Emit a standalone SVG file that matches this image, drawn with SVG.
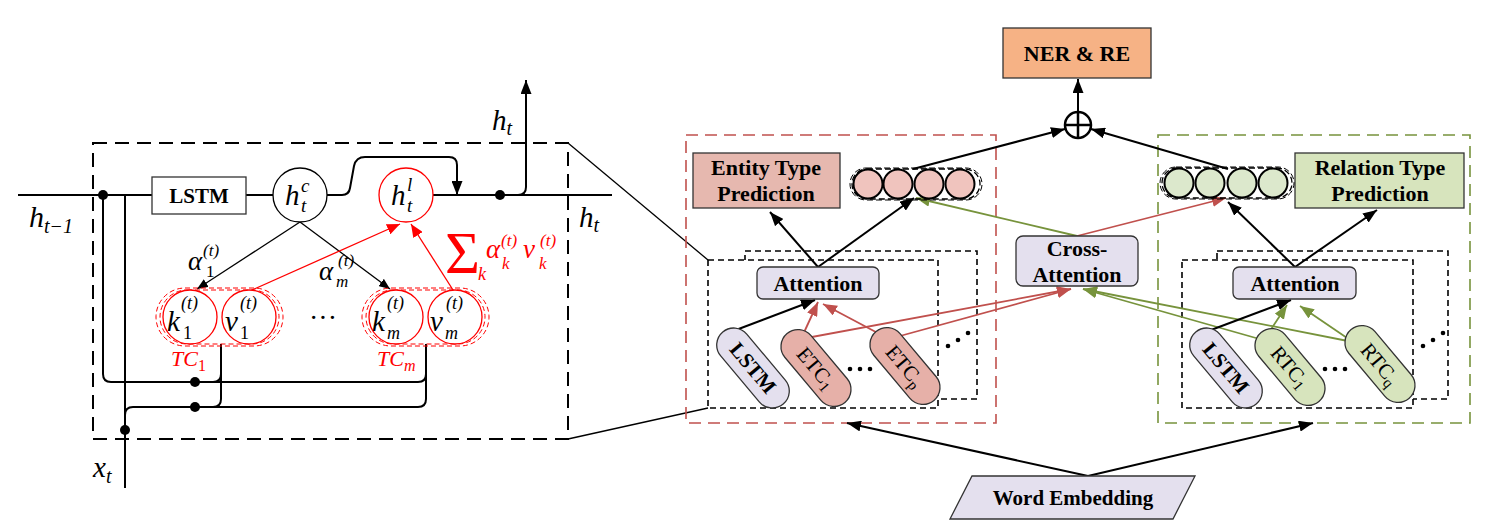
<svg xmlns="http://www.w3.org/2000/svg" width="1500" height="531" viewBox="0 0 1500 531">
<style>
.m{font-family:"Liberation Serif","DejaVu Serif",serif;font-style:italic;fill:#000}
.mr{font-family:"Liberation Serif","DejaVu Serif",serif;font-style:italic;fill:#FF0000}
.up{font-style:normal}
.b{font-family:"Liberation Serif","Times New Roman",serif;font-weight:bold;fill:#000;text-anchor:middle}
.nb{font-weight:normal}
.ln{fill:none;stroke:#000;stroke-width:2}
.thin{fill:none;stroke:#000;stroke-width:1.3}
.red{fill:none;stroke:#FF0000;stroke-width:1.3}
.dk{fill:none;stroke:#000;stroke-width:2;stroke-dasharray:14 8}
.dsm{fill:#fff;stroke:#000;stroke-width:1.6;stroke-dasharray:6 4}
.dred{fill:none;stroke:#C0504D;stroke-width:1.6;stroke-dasharray:12 7}
.dgrn{fill:none;stroke:#77933C;stroke-width:1.6;stroke-dasharray:12 7}
.tc{fill:none;stroke:#FF0000;stroke-width:1;stroke-dasharray:5 3}
.ar{fill:none;stroke:#000;stroke-width:2}
.arR{fill:none;stroke:#C0504D;stroke-width:1.8}
.arG{fill:none;stroke:#77933C;stroke-width:1.8}
.lav{fill:#E4E0EE;stroke:#333;stroke-width:1.3}
.pnk{fill:#E6B0A8;stroke:#333;stroke-width:1.3}
.grn{fill:#D7E4BD;stroke:#333;stroke-width:1.3}
.dot{fill:#000}
</style>
<defs>
<marker id="ab" viewBox="0 0 14 11" refX="14" refY="5.5" markerWidth="14" markerHeight="11" markerUnits="userSpaceOnUse" orient="auto"><path d="M0,0 L14,5.5 L0,11 z" fill="#000"/></marker>
<marker id="abs" viewBox="0 0 11 9" refX="11" refY="4.5" markerWidth="11" markerHeight="9" markerUnits="userSpaceOnUse" orient="auto"><path d="M0,0 L11,4.5 L0,9 z" fill="#000"/></marker>
<marker id="arl" viewBox="0 0 13 11" refX="13" refY="5.5" markerWidth="13" markerHeight="11" markerUnits="userSpaceOnUse" orient="auto"><path d="M0,0 L13,5.5 L0,11 z" fill="#FF0000"/></marker>
<marker id="arr" viewBox="0 0 14 11" refX="14" refY="5.5" markerWidth="14" markerHeight="11" markerUnits="userSpaceOnUse" orient="auto"><path d="M0,0 L14,5.5 L0,11 z" fill="#C0504D"/></marker>
<marker id="arg" viewBox="0 0 14 11" refX="14" refY="5.5" markerWidth="14" markerHeight="11" markerUnits="userSpaceOnUse" orient="auto"><path d="M0,0 L14,5.5 L0,11 z" fill="#77933C"/></marker>
</defs>

<!-- LEFT PANEL -->
<g id="left-frame">
<rect x="93" y="143" width="475" height="296" class="dk"/>
<line x1="568" y1="143" x2="708" y2="260" class="thin" stroke-width="1.6"/>
<line x1="568" y1="439" x2="708" y2="408" class="thin" stroke-width="1.6"/>
</g>

<g id="left-connectors">
<path d="M18,195 H152" class="ln"/>
<path d="M246,195 H273" class="ln"/>
<path d="M433,195 H612" class="ln"/>
<path d="M327,195 H342 Q349,195 350,188 L354,166 Q356,157 365,157 H449 Q457,157 457,165 V195" class="ln" marker-end="url(#ab)"/>
<path d="M500,195 H518 Q526,195 526,187 V80" class="ln" marker-end="url(#ab)"/>
<path d="M103,195 V374 Q103,382 111,382 H418 Q426,382 426,374" class="ln"/>
<path d="M125,195 V488" class="ln"/>
<path d="M125,430 V415 Q125,407 133,407 H418 Q426,407 426,399 V344" class="ln"/>
<path d="M221,344 V399 Q221,407 213,407" class="ln"/>
<path d="M221,374 Q221,382 213,382" class="ln"/>
<line x1="300" y1="222" x2="197" y2="289" class="thin" marker-end="url(#abs)"/>
<line x1="300" y1="222" x2="390" y2="289" class="thin" marker-end="url(#abs)"/>
<line x1="252" y1="290" x2="400" y2="224" class="red" marker-end="url(#arl)"/>
<line x1="453" y1="290" x2="411" y2="224" class="red" marker-end="url(#arl)"/>
<circle cx="103" cy="195" r="5" class="dot"/>
<circle cx="500" cy="195" r="5" class="dot"/>
<circle cx="195" cy="382" r="5" class="dot"/>
<circle cx="195" cy="407" r="5" class="dot"/>
<circle cx="125" cy="430" r="5" class="dot"/>
</g>

<g id="lstm-cell">
<rect x="152" y="177" width="94" height="37" fill="#fff" stroke="#333" stroke-width="1.3"/>
<text x="199" y="203" class="b" font-size="21">LSTM</text>
</g>
<g id="h-c">
<circle cx="300" cy="195" r="27" fill="#fff" stroke="#000" stroke-width="1.3"/>
<text x="285" y="205" class="m" font-size="29">h</text>
<text x="301" y="192" class="m" font-size="19">c</text>
<text x="301" y="212" class="m" font-size="19">t</text>
</g>
<g id="h-l">
<circle cx="406" cy="195" r="27" fill="#fff" stroke="#FF0000" stroke-width="1.3"/>
<text x="391" y="205" class="m" font-size="29">h</text>
<text x="407" y="191" class="m" font-size="19">l</text>
<text x="407" y="212" class="m" font-size="19">t</text>
</g>

<g id="tc1">
<rect x="160" y="290" width="119" height="54" rx="27" class="tc"/>
<rect x="156" y="288" width="127" height="58" rx="29" class="tc"/>
<circle cx="190" cy="317" r="27" fill="#fff" stroke="#FF0000" stroke-width="1.3"/>
<circle cx="249" cy="317" r="27" fill="#fff" stroke="#FF0000" stroke-width="1.3"/>
<text x="167" y="331" class="m" font-size="29">k</text>
<text x="183" y="339" class="m up" font-size="18">1</text>
<text x="181" y="309" class="m" font-size="18">(t)</text>
<text x="225" y="331" class="m" font-size="29">v</text>
<text x="240" y="339" class="m up" font-size="18">1</text>
<text x="240" y="309" class="m" font-size="18">(t)</text>
<text x="171" y="366" class="mr" font-size="22">TC<tspan class="up" font-size="16" dy="5">1</tspan></text>
</g>
<g id="tcm">
<rect x="366" y="290" width="119" height="54" rx="27" class="tc"/>
<rect x="362" y="288" width="127" height="58" rx="29" class="tc"/>
<circle cx="396" cy="317" r="27" fill="#fff" stroke="#FF0000" stroke-width="1.3"/>
<circle cx="455" cy="317" r="27" fill="#fff" stroke="#FF0000" stroke-width="1.3"/>
<text x="372" y="331" class="m" font-size="29">k</text>
<text x="387" y="339" class="m" font-size="18">m</text>
<text x="387" y="309" class="m" font-size="18">(t)</text>
<text x="430" y="331" class="m" font-size="29">v</text>
<text x="445" y="339" class="m" font-size="18">m</text>
<text x="446" y="309" class="m" font-size="18">(t)</text>
<text x="377" y="366" class="mr" font-size="22">TC<tspan font-size="16" dy="5">m</tspan></text>
</g>
<g id="left-labels">
<text x="309" y="327" font-family="Liberation Serif,serif" font-size="28" fill="#000">···</text>
<text x="29" y="227" class="m" font-size="30">h<tspan font-size="20" dy="6">t−1</tspan></text>
<text x="492" y="130" class="m" font-size="29">h<tspan font-size="20" dy="5">t</tspan></text>
<text x="579" y="227" class="m" font-size="29">h<tspan font-size="20" dy="5">t</tspan></text>
<text x="93" y="477" class="m" font-size="29">x<tspan font-size="20" dy="6">t</tspan></text>
<text x="188" y="270" class="m" font-size="27">α</text>
<text x="206" y="277" class="m up" font-size="17">1</text>
<text x="203" y="256" class="m" font-size="17">(t)</text>
<text x="319" y="280" class="m" font-size="27">α</text>
<text x="336" y="287" class="m" font-size="17">m</text>
<text x="338" y="266" class="m" font-size="17">(t)</text>
<text x="445" y="273" class="mr up" font-size="60">Σ</text>
<text x="478" y="280" class="mr" font-size="18">k</text>
<text x="486" y="258" class="mr" font-size="27">α</text>
<text x="502" y="269" class="mr" font-size="17">k</text>
<text x="501" y="246" class="mr" font-size="17">(t)</text>
<text x="523" y="258" class="mr" font-size="27">v</text>
<text x="539" y="269" class="mr" font-size="17">k</text>
<text x="540" y="246" class="mr" font-size="17">(t)</text>
</g>

<!-- RIGHT PANEL -->
<g id="entity-branch">
<rect x="686" y="135" width="310" height="288" class="dred"/>
</g>
<g id="relation-branch">
<rect x="1158" y="135" width="312" height="288" class="dgrn"/>
</g>

<g id="entity-encoder">
<rect x="745" y="251" width="232" height="148" class="dsm"/>
<circle cx="948" cy="346" r="2.3" class="dot"/>
<circle cx="958" cy="340" r="2.3" class="dot"/>
<circle cx="968" cy="333" r="2.3" class="dot"/>
<rect x="708" y="260" width="230" height="148" class="dsm"/>
</g>
<g id="relation-encoder">
<rect x="1217" y="251" width="231" height="148" class="dsm"/>
<circle cx="1423" cy="346" r="2.3" class="dot"/>
<circle cx="1433" cy="340" r="2.3" class="dot"/>
<circle cx="1443" cy="333" r="2.3" class="dot"/>
<rect x="1182" y="260" width="231" height="148" class="dsm"/>
</g>

<g id="connectors">
<line x1="1078" y1="112" x2="1078" y2="79" class="ar" marker-end="url(#ab)"/>
<line x1="913" y1="169" x2="1065" y2="129" class="ar" marker-end="url(#ab)"/>
<line x1="1228" y1="169" x2="1091" y2="129" class="ar" marker-end="url(#ab)"/>
<line x1="818" y1="267" x2="770" y2="212" class="ar" marker-end="url(#ab)"/>
<line x1="818" y1="267" x2="914" y2="198" class="ar" marker-end="url(#ab)"/>
<line x1="1295" y1="267" x2="1228" y2="202" class="ar" marker-end="url(#ab)"/>
<line x1="1295" y1="267" x2="1377" y2="210" class="ar" marker-end="url(#ab)"/>
<line x1="728" y1="333" x2="815" y2="300" class="ar" marker-end="url(#ab)"/>
<line x1="801" y1="339" x2="818" y2="302" class="arR" marker-end="url(#arr)"/>
<line x1="889" y1="339" x2="823" y2="304" class="arR" marker-end="url(#arr)"/>
<line x1="801" y1="339" x2="1071" y2="289" class="arR" marker-end="url(#arr)"/>
<line x1="889" y1="339" x2="1071" y2="289" class="arR" marker-end="url(#arr)"/>
<line x1="1263" y1="340" x2="1083" y2="289" class="arG" marker-end="url(#arg)"/>
<line x1="1353" y1="342" x2="1083" y2="289" class="arG" marker-end="url(#arg)"/>
<line x1="1203" y1="333" x2="1291" y2="300" class="ar" marker-end="url(#ab)"/>
<line x1="1264" y1="340" x2="1287" y2="305" class="arG" marker-end="url(#arg)"/>
<line x1="1353" y1="342" x2="1300" y2="306" class="arG" marker-end="url(#arg)"/>
<line x1="1077" y1="236" x2="1226" y2="198" class="arR" marker-end="url(#arr)"/>
<line x1="1077" y1="236" x2="916" y2="198" class="arG" stroke-width="1.4" marker-end="url(#arg)"/>
<line x1="1088" y1="476" x2="847" y2="423" class="ar" marker-end="url(#ab)"/>
<line x1="1088" y1="476" x2="1313" y2="423" class="ar" marker-end="url(#ab)"/>
</g>

<g id="ner-re">
<rect x="1003" y="28" width="148" height="50" fill="#F6B285" stroke="#333" stroke-width="1.3"/>
<text x="1077" y="61" class="b" font-size="22">NER &amp; RE</text>
</g>
<g id="oplus">
<circle cx="1078" cy="125" r="13" fill="#fff" stroke="#000" stroke-width="2.5"/>
<line x1="1065" y1="125" x2="1091" y2="125" stroke="#000" stroke-width="2.5"/>
<line x1="1078" y1="112" x2="1078" y2="138" stroke="#000" stroke-width="2.5"/>
</g>

<g id="entity-type-prediction">
<rect x="693" y="153" width="147" height="55" fill="#E6B8AF" stroke="#333" stroke-width="1.3"/>
<text x="766" y="175" class="b" font-size="22">Entity Type</text>
<text x="766" y="201" class="b" font-size="22">Prediction</text>
</g>
<g id="relation-type-prediction">
<rect x="1295" y="153" width="169" height="55" fill="#D7E4BD" stroke="#333" stroke-width="1.3"/>
<text x="1380" y="175" class="b" font-size="22">Relation Type</text>
<text x="1380" y="201" class="b" font-size="22">Prediction</text>
</g>

<g id="entity-vector">
<rect x="852" y="169" width="128" height="30" rx="15" fill="none" stroke="#000" stroke-width="1.3" stroke-dasharray="6 3"/>
<rect x="850" y="168" width="132" height="32" rx="16" fill="none" stroke="#000" stroke-width="1" stroke-dasharray="6 3"/>
<circle cx="868" cy="184" r="14.5" fill="#F0C4BE" stroke="#000" stroke-width="2"/>
<circle cx="898" cy="184" r="14.5" fill="#F0C4BE" stroke="#000" stroke-width="2"/>
<circle cx="929" cy="184" r="14.5" fill="#F0C4BE" stroke="#000" stroke-width="2"/>
<circle cx="960" cy="184" r="14.5" fill="#F0C4BE" stroke="#000" stroke-width="2"/>
</g>
<g id="relation-vector">
<rect x="1162" y="168" width="130" height="30" rx="15" fill="none" stroke="#000" stroke-width="1.3" stroke-dasharray="6 3"/>
<rect x="1160" y="167" width="134" height="32" rx="16" fill="none" stroke="#000" stroke-width="1" stroke-dasharray="6 3"/>
<circle cx="1179" cy="183" r="14.5" fill="#DCE8CC" stroke="#000" stroke-width="2"/>
<circle cx="1210" cy="183" r="14.5" fill="#DCE8CC" stroke="#000" stroke-width="2"/>
<circle cx="1242" cy="183" r="14.5" fill="#DCE8CC" stroke="#000" stroke-width="2"/>
<circle cx="1273" cy="183" r="14.5" fill="#DCE8CC" stroke="#000" stroke-width="2"/>
</g>

<g id="cross-attention">
<rect x="1016" y="236" width="122" height="50" rx="7" class="lav"/>
<text x="1077" y="256" class="b" font-size="22">Cross-</text>
<text x="1077" y="282" class="b" font-size="22">Attention</text>
</g>
<g id="entity-attention">
<rect x="757" y="267" width="122" height="32" rx="6" class="lav"/>
<text x="818" y="291" class="b" font-size="22">Attention</text>
</g>
<g id="relation-attention">
<rect x="1233" y="267" width="123" height="32" rx="6" class="lav"/>
<text x="1295" y="291" class="b" font-size="22">Attention</text>
</g>

<g id="entity-lstm" transform="translate(753,368) rotate(50)">
<rect x="-47" y="-17" width="94" height="34" rx="17" class="lav"/>
<text x="0" y="7" class="b" font-size="21">LSTM</text>
</g>
<g id="etc-1" transform="translate(816,368) rotate(50)">
<rect x="-45" y="-17" width="90" height="34" rx="17" class="pnk"/>
<text x="0" y="7" class="b nb" font-size="21">ETC<tspan font-size="15" dy="4">1</tspan></text>
</g>
<g id="etc-p" transform="translate(905,366) rotate(50)">
<rect x="-45" y="-17" width="90" height="34" rx="17" class="pnk"/>
<text x="0" y="7" class="b nb" font-size="21">ETC<tspan font-size="15" dy="4">p</tspan></text>
</g>
<g id="entity-dots">
<circle cx="850" cy="369" r="2.3" class="dot"/>
<circle cx="860" cy="369" r="2.3" class="dot"/>
<circle cx="870" cy="369" r="2.3" class="dot"/>
</g>

<g id="relation-lstm" transform="translate(1226,368) rotate(50)">
<rect x="-47" y="-17" width="94" height="34" rx="17" class="lav"/>
<text x="0" y="7" class="b" font-size="21">LSTM</text>
</g>
<g id="rtc-1" transform="translate(1290,367) rotate(50)">
<rect x="-45" y="-17" width="90" height="34" rx="17" class="grn"/>
<text x="0" y="7" class="b nb" font-size="21">RTC<tspan font-size="15" dy="4">1</tspan></text>
</g>
<g id="rtc-q" transform="translate(1380,364) rotate(50)">
<rect x="-45" y="-17" width="90" height="34" rx="17" class="grn"/>
<text x="0" y="7" class="b nb" font-size="21">RTC<tspan font-size="15" dy="4">q</tspan></text>
</g>
<g id="relation-dots">
<circle cx="1325" cy="369" r="2.3" class="dot"/>
<circle cx="1335" cy="369" r="2.3" class="dot"/>
<circle cx="1345" cy="369" r="2.3" class="dot"/>
</g>

<g id="word-embedding">
<polygon points="972,476 1195,476 1173,519 950,519" fill="#E4E0EE" stroke="#333" stroke-width="1.3"/>
<text x="1073" y="505" class="b" font-size="21">Word Embedding</text>
</g>
</svg>
